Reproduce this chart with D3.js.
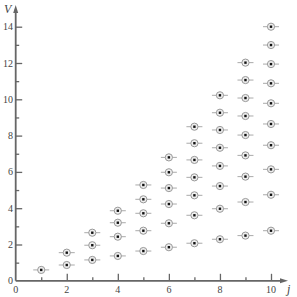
<!DOCTYPE html>
<html>
<head>
<meta charset="utf-8">
<script src="https://cdn.jsdelivr.net/npm/d3@7"></script>
<style>
  html, body { margin: 0; padding: 0; background: #fff; }
  svg { display: block; }
</style>
</head>
<body>
<div id="chart"></div>
<script>
// columns j = 1..10, each column has j levels V
var jValues = [1, 2, 3, 4, 5, 6, 7, 8, 9, 10];
var vLevels = [
    [0.6],
    [0.87, 1.55],
    [1.15, 1.96, 2.65],
    [1.37, 2.43, 3.2, 3.86],
    [1.64, 2.76, 3.72, 4.49, 5.28],
    [1.85, 3.17, 4.23, 5.11, 5.98, 6.8],
    [2.07, 3.61, 4.71, 5.7, 6.66, 7.58, 8.49],
    [2.29, 3.97, 5.22, 6.33, 7.33, 8.31, 9.26, 10.22],
    [2.49, 4.34, 5.74, 6.91, 8.03, 9.08, 10.07, 11.06, 12.02],
    [2.76, 4.74, 6.14, 7.47, 8.64, 9.78, 10.88, 11.94, 12.99, 14.0]
];
var xTicks = [0, 2, 4, 6, 8, 10];
var yTicks = [0, 2, 4, 6, 8, 10, 12, 14];

(function () {
    var width = 297, height = 297;
    var axisColor = '#666';
    var font = '"Liberation Serif", "Times New Roman", serif';

    var x = d3.scaleLinear().domain([0, 10]).range([15.7, 271]);
    var y = d3.scaleLinear().domain([0, 14]).range([280.8, 26.7]);

    var svg = d3.select('#chart').append('svg')
        .attr('width', width)
        .attr('height', height);

    var points = [];
    jValues.forEach(function (j, i) {
        vLevels[i].forEach(function (v) { points.push({ j: j, v: v }); });
    });

    // axes lines with arrow heads
    var x0 = x(0), y0 = y(0);
    var xEnd = 288, yEnd = 5;
    svg.append('line')
        .attr('x1', x0).attr('y1', y0).attr('x2', xEnd - 4).attr('y2', y0)
        .attr('stroke', axisColor).attr('stroke-width', 1.8);
    svg.append('line')
        .attr('x1', x0).attr('y1', y0).attr('x2', x0).attr('y2', yEnd + 4)
        .attr('stroke', axisColor).attr('stroke-width', 1.8);
    svg.append('path')
        .attr('d', 'M' + xEnd + ',' + y0 + 'L' + (xEnd - 8) + ',' + (y0 - 2.5) + 'L' + (xEnd - 8) + ',' + (y0 + 2.5) + 'Z')
        .attr('fill', axisColor);
    svg.append('path')
        .attr('d', 'M' + x0 + ',' + yEnd + 'L' + (x0 - 2.5) + ',' + (yEnd + 8) + 'L' + (x0 + 2.5) + ',' + (yEnd + 8) + 'Z')
        .attr('fill', axisColor);

    // x ticks (major inward, minor at odd values)
    var xAxis = d3.axisTop(x)
        .tickValues(d3.range(1, 11))
        .tickSize(0)
        .tickFormat('');
    var gx = svg.append('g').attr('transform', 'translate(0,' + y0 + ')').call(xAxis);
    gx.select('.domain').remove();
    gx.selectAll('.tick line')
        .attr('y2', function (d) { return d % 2 === 0 ? -7 : -3.5; })
        .attr('stroke', axisColor).attr('stroke-width', 1.3);

    svg.selectAll('.xlab').data(xTicks).enter().append('text')
        .attr('x', function (d) { return x(d); })
        .attr('y', 293)
        .attr('text-anchor', 'middle')
        .attr('font-family', font).attr('font-size', 10).attr('fill', '#444')
        .text(function (d) { return d; });

    // y ticks
    var yAxis = d3.axisRight(y)
        .tickValues(d3.range(1, 15))
        .tickSize(0)
        .tickFormat('');
    var gy = svg.append('g').attr('transform', 'translate(' + x0 + ',0)').call(yAxis);
    gy.select('.domain').remove();
    gy.selectAll('.tick line')
        .attr('x2', function (d) { return d % 2 === 0 ? 6.5 : 3.5; })
        .attr('stroke', axisColor).attr('stroke-width', 1.3);

    svg.selectAll('.ylab').data(yTicks).enter().append('text')
        .attr('x', 13)
        .attr('y', function (d) { return y(d) + 3.5; })
        .attr('text-anchor', 'end')
        .attr('font-family', font).attr('font-size', 10).attr('fill', '#444')
        .text(function (d) { return d; });

    // axis titles
    svg.append('text')
        .attr('x', 4).attr('y', 13)
        .attr('font-family', font).attr('font-size', 12).attr('font-style', 'italic').attr('fill', '#444')
        .text('V');
    svg.append('text')
        .attr('x', 287).attr('y', 293)
        .attr('font-family', font).attr('font-size', 12).attr('font-style', 'italic').attr('fill', '#444')
        .text('j');

    // markers: horizontal bar, ring, black dot
    var g = svg.append('g');
    var m = g.selectAll('g.pt').data(points).enter().append('g')
        .attr('transform', function (d) { return 'translate(' + x(d.j) + ',' + y(d.v) + ')'; });
    m.append('line')
        .attr('x1', -8).attr('x2', 8).attr('y1', 0).attr('y2', 0)
        .attr('stroke', '#aaa').attr('stroke-width', 1);
    m.append('circle')
        .attr('r', 3.6)
        .attr('fill', '#eee')
        .attr('stroke', '#999').attr('stroke-width', 1);
    m.append('rect')
        .attr('x', -1.2).attr('y', -1.2).attr('width', 2.4).attr('height', 2.4)
        .attr('fill', '#111');
})();
</script>
</body>
</html>
